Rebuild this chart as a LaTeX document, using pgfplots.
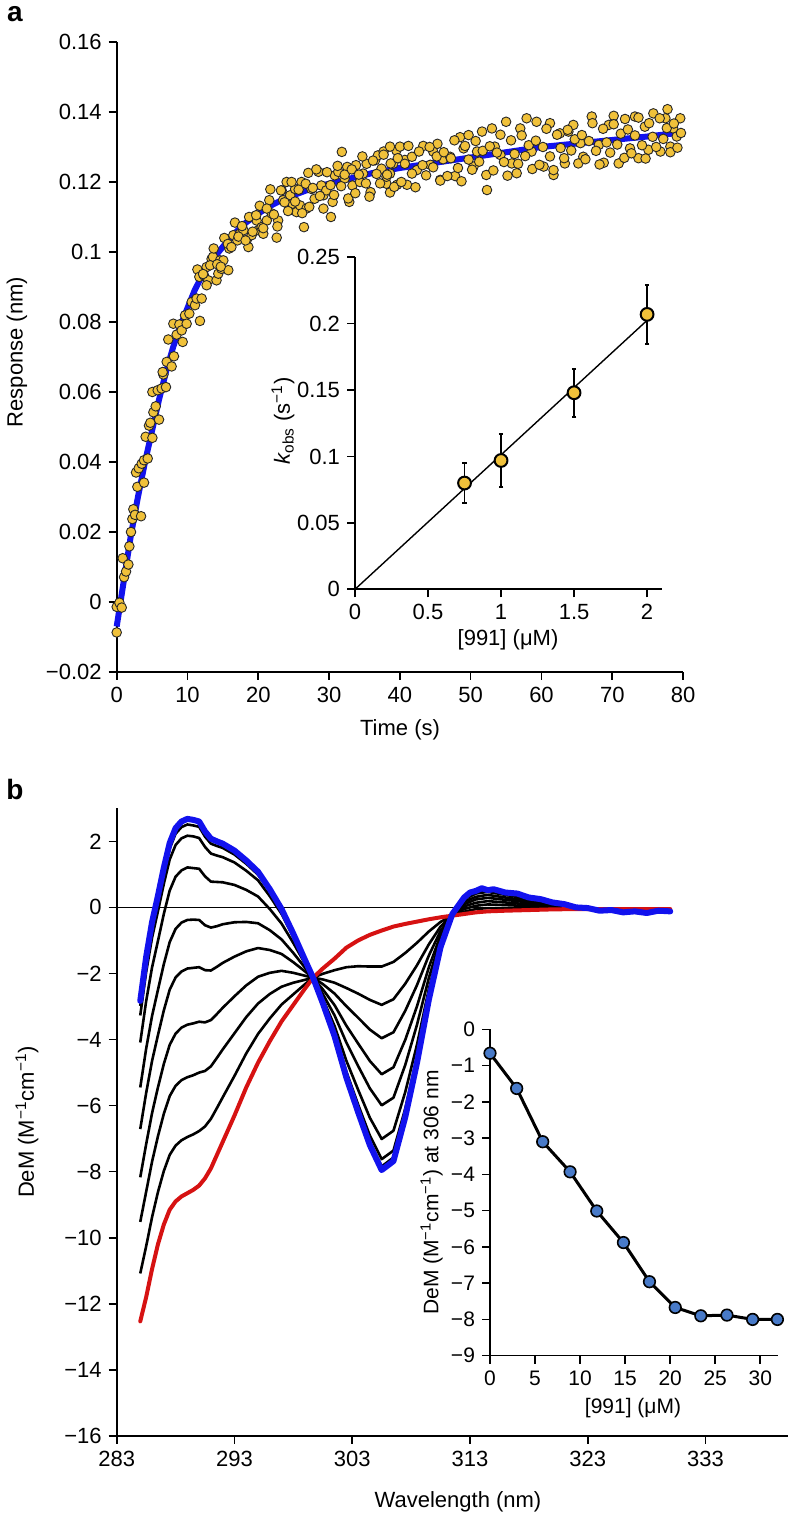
\documentclass[border=0pt]{standalone}
\usepackage{fontspec}
\setmainfont{Liberation Sans}
\usepackage{pgfplots}
\usepackage{pgfplotstable}
\pgfplotsset{compat=1.18}

\definecolor{dotyellow}{RGB}{240,193,58}
\definecolor{fitblue}{RGB}{18,18,238}
\definecolor{specred}{RGB}{214,18,18}
\definecolor{dotblue}{RGB}{72,122,200}

% CD titration spectra: wavelength, free (red), then 8 intermediate spectra
\pgfplotstableread{
x     r      k1     k2     k3     k4     k5     k6     k7     k8
285   -12.53 -11.08 -9.52  -8.17  -6.71  -5.45  -4.09  -3.27  -2.98
285.5 -11.80 -10.26 -8.61  -7.17  -5.62  -4.28  -2.84  -1.96  -1.65
286   -10.95 -9.38  -7.70  -6.23  -4.65  -3.29  -1.82  -0.92  -0.61
286.5 -10.20 -8.62  -6.93  -5.45  -3.87  -2.50  -1.02  -0.12  0.19
287   -9.60  -7.98  -6.25  -4.74  -3.12  -1.72  -0.20  0.71   1.04
287.5 -9.15  -7.49  -5.71  -4.16  -2.49  -1.05  0.51   1.45   1.78
288   -8.90  -7.21  -5.40  -3.82  -2.12  -0.65  0.93   1.89   2.23
288.5 -8.75  -7.05  -5.23  -3.64  -1.94  -0.46  1.12   2.09   2.43
289   -8.65  -6.95  -5.14  -3.55  -1.85  -0.38  1.21   2.17   2.51
289.5 -8.55  -6.87  -5.08  -3.51  -1.83  -0.37  1.19   2.15   2.48
290   -8.42  -6.77  -5.00  -3.46  -1.81  -0.38  1.17   2.10   2.44
290.5 -8.20  -6.63  -4.95  -3.48  -1.90  -0.54  0.94   1.83   2.14
291   -7.90  -6.40  -4.81  -3.41  -1.91  -0.61  0.78   1.63   1.93
291.5 -7.50  -6.08  -4.56  -3.23  -1.80  -0.57  0.77   1.57   1.86
292   -7.10  -5.75  -4.30  -3.04  -1.68  -0.51  0.76   1.52   1.80
293   -6.30  -5.10  -3.81  -2.69  -1.49  -0.45  0.68   1.36   1.60
294   -5.45  -4.42  -3.32  -2.36  -1.33  -0.44  0.53   1.11   1.32
295   -4.70  -3.83  -2.91  -2.10  -1.23  -0.48  0.33   0.82   0.99
296   -4.05  -3.36  -2.62  -1.98  -1.29  -0.69  -0.05  0.34   0.48
297   -3.45  -2.94  -2.40  -1.92  -1.41  -0.97  -0.49  -0.20  -0.10
298   -2.95  -2.63  -2.28  -1.98  -1.66  -1.38  -1.08  -0.90  -0.83
299   -2.45  -2.32  -2.19  -2.07  -1.94  -1.83  -1.71  -1.64  -1.61
299.7 -2.12  -2.12  -2.13  -2.13  -2.14  -2.14  -2.15  -2.15  -2.15
300.5 -1.85  -2.01  -2.18  -2.32  -2.48  -2.62  -2.76  -2.85  -2.88
301.5 -1.55  -1.90  -2.28  -2.61  -2.96  -3.27  -3.59  -3.79  -3.87
302.5 -1.22  -1.81  -2.44  -2.99  -3.58  -4.09  -4.64  -4.97  -5.09
303.5 -1.00  -1.78  -2.61  -3.34  -4.12  -4.80  -5.52  -5.97  -6.12
304.5 -0.83  -1.79  -2.80  -3.70  -4.65  -5.48  -6.37  -6.91  -7.10
305.5 -0.70  -1.79  -2.95  -3.96  -5.05  -5.99  -7.01  -7.62  -7.84
306.5 -0.58  -1.65  -2.78  -3.78  -4.84  -5.76  -6.76  -7.36  -7.57
307.5 -0.50  -1.38  -2.31  -3.13  -4.01  -4.77  -5.59  -6.09  -6.26
308.5 -0.43  -1.07  -1.75  -2.35  -2.99  -3.55  -4.15  -4.51  -4.64
309.5 -0.36  -0.73  -1.12  -1.46  -1.82  -2.14  -2.48  -2.69  -2.76
310.5 -0.30  -0.44  -0.58  -0.71  -0.84  -0.96  -1.08  -1.16  -1.19
311.5 -0.25  -0.24  -0.23  -0.23  -0.22  -0.21  -0.21  -0.20  -0.20
312.5 -0.20  -0.13  -0.05  0.03   0.10   0.17   0.24   0.28   0.29
313.5 -0.15  -0.05  0.05   0.14   0.24   0.32   0.42   0.47   0.49
314.5 -0.12  -0.02  0.09   0.19   0.29   0.38   0.47   0.53   0.55
316   -0.10  -0.02  0.07   0.15   0.23   0.30   0.38   0.43   0.44
318   -0.08  -0.02  0.04   0.09   0.15   0.20   0.25   0.28   0.29
320   -0.06  -0.03  0.01   0.03   0.07   0.09   0.12   0.14   0.14
322   -0.05  -0.04  -0.03  -0.03  -0.02  -0.01  -0.01  0.00   0.00
324   -0.05  -0.05  -0.06  -0.06  -0.07  -0.07  -0.08  -0.08  -0.08
326   -0.05  -0.07  -0.08  -0.10  -0.11  -0.12  -0.14  -0.15  -0.15
328   -0.05  -0.07  -0.09  -0.10  -0.12  -0.14  -0.15  -0.16  -0.17
330   -0.05  -0.06  -0.07  -0.08  -0.09  -0.10  -0.11  -0.12  -0.12
}\cdtable

\pgfplotsset{
  panel/.style={
    scale only axis, anchor=south west, clip=false,
    axis lines*=left,
    axis line style={line width=0.8pt},
    tick align=outside, major tick length=4pt,
    tick style={line width=0.8pt, black},
    ticklabel style={font=\fontsize{11}{13}\selectfont},
  },
}

\begin{document}
\begin{tikzpicture}
\useasboundingbox (0,0) rectangle (394pt,757pt);

% ---------------- panel a ----------------
\node[font=\fontsize{14}{16}\selectfont\bfseries] at (7.5pt,750pt) {a};

\begin{axis}[panel,
  at={(58.35pt,421pt)}, width=283.2pt, height=315pt,
  xmin=0, xmax=80, ymin=-0.02, ymax=0.16,
  xtick={0,10,20,30,40,50,60,70,80},
  xticklabels={0,10,20,30,40,50,60,70,80},
  ytick={-0.02,0,0.02,0.04,0.06,0.08,0.1,0.12,0.14,0.16},
  yticklabels={−0.02,0,0.02,0.04,0.06,0.08,0.1,0.12,0.14,0.16},
]
\addplot[fitblue, line width=3pt] coordinates {
(0,-0.007)(1,0.006)(2,0.019)(3,0.030)(4,0.040)(5,0.049)(6,0.058)(7,0.066)
(8,0.073)(9,0.079)(10,0.084)(11,0.089)(12,0.093)(14,0.099)(16,0.104)(18,0.108)
(20,0.111)(22,0.1135)(24,0.1155)(26,0.117)(28,0.1185)(30,0.1195)(33,0.121)
(36,0.1225)(40,0.124)(45,0.1255)(50,0.127)(55,0.1285)(60,0.130)(65,0.131)
(70,0.132)(75,0.133)(80,0.1342)};
\addplot[only marks, mark=*, mark size=2.4pt,
  mark options={fill=dotyellow, draw=black!85, line width=0.45pt}] coordinates {
(0,-0.0087)(0,-0.0014)(0.38,-0.0002)(0.71,-0.0016)(0.85,0.0125)(1.04,0.0071)
(1.32,0.0087)(1.65,0.0107)(1.79,0.0159)(2.02,0.020)(2.21,0.0237)(2.35,0.0265)
(2.59,0.0249)(2.92,0.0329)(2.73,0.037)(3.11,0.0382)(3.44,0.0245)(3.53,0.0395)
(3.86,0.0341)(3.86,0.0405)(4.09,0.0472)(4.38,0.041)(4.56,0.0504)(4.75,0.0512)
(5.04,0.0469)(5.18,0.0542)(5.51,0.0559)(5.98,0.0521)(5.04,0.060)(5.79,0.0605)
(6.35,0.061)(6.96,0.0614)(6.59,0.065)
(6.49,0.0657)(7.06,0.0686)(7.76,0.0673)(8.09,0.0702)(7.29,0.075)(8.0,0.0795)
(8.47,0.0764)(8.85,0.0793)(9.32,0.0743)(9.18,0.0776)(9.65,0.0819)(9.88,0.0795)
(10.26,0.0824)(10.59,0.0857)(11.06,0.0848)(11.76,0.0803)(11.29,0.0867)(12.0,0.0867)
(11.4,0.0950)(11.67,0.0929)(12.33,0.0933)(12.94,0.0919)(12.7,0.0957)(13.4,0.098)
(13.6,0.0986)(14.1,0.0919)(14.35,0.0938)(14.6,0.0976)(14.8,0.0952)(15.06,0.0976)
(15.76,0.0948)(15.9,0.101)(16.47,0.1048)(17.04,0.1033)(17.4,0.1052)(17.9,0.1062)
(18.35,0.1033)(18.6,0.1014)(19.06,0.1048)(19.3,0.11)(19.76,0.109)(20.0,0.1062)
(20.47,0.1071)(20.7,0.1052)(21.2,0.109)(21.55,0.1148)(21.9,0.111)(22.6,0.1041)
(22.8,0.109)(23.3,0.1176)(23.5,0.1148)(24.0,0.12)(24.5,0.1162)(24.85,0.1138)
(25.2,0.118)(25.4,0.1114)(25.9,0.1133)(26.1,0.12)(26.45,0.1071)(26.8,0.1124)
(27.06,0.1226)(27.5,0.118)(27.95,0.1152)(28.5,0.1229)(28.9,0.119)(29.2,0.1162)
(29.6,0.1176)(30.26,0.11)(30.5,0.1143)(30.8,0.1219)(31.3,0.1229)(31.8,0.1286)
(32.2,0.121)(32.56,0.1243)(32.85,0.1143)(33.3,0.119)(33.8,0.1248)(34.35,0.12)
(34.8,0.1224)(35.3,0.1252)(35.86,0.1171)(36.5,0.1262)(36.9,0.1276)(37.4,0.1238)
(38.1,0.1195)(38.6,0.1224)(39.06,0.1252)(39.5,0.129)
(37.7,0.1287)(38.6,0.1301)(38.1,0.1215)(38.6,0.117)(39.6,0.1192)(40.0,0.1301)
(40.7,0.1263)(41.0,0.1192)(41.7,0.1272)(42.4,0.1234)(43.3,0.1303)(44.3,0.1249)
(44.7,0.1287)(45.3,0.1309)(45.7,0.1206)(46.1,0.1265)(47.1,0.1272)(47.8,0.1217)
(48.5,0.1328)(49.0,0.1296)(49.7,0.1334)(50.4,0.1244)(50.9,0.1287)(51.6,0.1344)
(52.3,0.1177)(53.0,0.1353)(53.4,0.1301)(54.2,0.1277)(55.0,0.1372)(55.8,0.1253)
(56.5,0.1225)(57.0,0.1353)(57.9,0.1382)(58.6,0.1287)(59.3,0.1372)(60.3,0.1244)
(61.2,0.1368)(61.7,0.122)(62.6,0.1339)(63.3,0.1253)(63.8,0.1344)(64.5,0.1363)
(65.5,0.1311)(65.9,0.1272)(67.1,0.1387)(68.1,0.1306)(68.8,0.1255)(69.5,0.1363)
(70.2,0.1389)(70.9,0.1253)(71.8,0.138)(72.5,0.1296)(73.2,0.1387)(73.7,0.1268)
(74.6,0.1358)(75.1,0.1292)(75.8,0.1396)(76.8,0.1287)(77.5,0.1382)(77.8,0.1408)
(78.2,0.1301)(78.6,0.1353)(79.1,0.133)(79.6,0.1382)
(12.2,0.0937)(12.7,0.0905)(13.2,0.0962)(13.7,0.101)(14.2,0.0965)(14.7,0.0958)
(15.2,0.104)(15.7,0.1023)(16.2,0.1014)(16.7,0.1084)(17.2,0.1044)(17.7,0.1074)
(18.2,0.1033)(18.7,0.110)(19.2,0.1058)(19.7,0.1105)
(20.2,0.1132)(20.7,0.1068)(21.2,0.1124)(21.7,0.1179)(22.2,0.1107)(22.7,0.1073)
(23.2,0.1176)(23.7,0.1142)(24.2,0.1117)(24.7,0.120)(25.2,0.1144)(25.7,0.1178)
(26.2,0.1111)(26.7,0.1195)(27.2,0.1129)(27.7,0.1183)(28.2,0.1236)(28.7,0.116)
(29.2,0.1124)(29.7,0.1228)(30.2,0.1191)(30.7,0.1163)(31.2,0.1246)(31.7,0.1188)
(32.2,0.1221)(32.7,0.1153)(33.2,0.1236)(33.7,0.1168)(34.2,0.1221)(34.7,0.1273)
(35.2,0.1196)(35.7,0.1158)(36.2,0.1261)(36.7,0.1223)(37.2,0.1196)(37.7,0.1278)
(38.2,0.1221)(38.7,0.1253)(39.2,0.1186)(39.7,0.1268)(40.2,0.120)(40.7,0.1252)
(41.2,0.1303)(41.7,0.1224)(42.2,0.1185)(42.7,0.1287)(43.2,0.1248)(43.7,0.1219)
(44.2,0.130)(44.7,0.1242)(45.2,0.1273)(45.7,0.1204)(46.2,0.1285)(46.7,0.1217)
(47.2,0.1268)(47.7,0.1319)(48.2,0.124)(48.7,0.1202)(49.2,0.1303)(49.7,0.1264)
(50.2,0.1235)(50.7,0.1317)(51.2,0.1258)(51.7,0.1289)(52.2,0.122)(52.7,0.1302)
(53.2,0.1233)(53.7,0.1284)(54.2,0.1335)(54.7,0.1257)(55.2,0.1218)(55.7,0.1319)
(56.2,0.128)(56.7,0.1252)(57.2,0.1333)(57.7,0.1274)(58.2,0.1305)(58.7,0.1237)
(59.2,0.1318)(59.7,0.1249)(60.2,0.130)(60.7,0.1352)(61.2,0.1273)(61.7,0.1234)
(62.2,0.1335)(62.7,0.1297)(63.2,0.1268)(63.7,0.1349)(64.2,0.129)(64.7,0.1322)
(65.2,0.1253)(65.7,0.1334)(66.2,0.1265)(66.7,0.1317)(67.2,0.1368)(67.7,0.1289)
(68.2,0.125)(68.7,0.1352)(69.2,0.1313)(69.7,0.1284)(70.2,0.1365)(70.7,0.1307)
(71.2,0.1338)(71.7,0.1269)(72.2,0.135)(72.7,0.1282)(73.2,0.1333)(73.7,0.1384)
(74.2,0.1305)(74.7,0.1267)(75.2,0.1368)(75.7,0.1329)(76.2,0.130)(76.7,0.1382)
(77.2,0.1323)(77.7,0.1354)(78.2,0.1285)(78.7,0.1367)(79.2,0.1298)(79.7,0.134)
};
\end{axis}
\node[font=\fontsize{11}{13}\selectfont] at (200pt,392pt) {Time (s)};
\node[rotate=90, font=\fontsize{11}{13}\selectfont] at (8.5pt,581pt) {Response (nm)};

% inset a
\begin{axis}[panel,
  at={(177.5pt,462.35pt)}, width=153.35pt, height=166pt,
  xmin=0, xmax=2.1, ymin=0, ymax=0.25,
  xtick={0,0.5,1,1.5,2}, xticklabels={0,0.5,1,1.5,2},
  ytick={0,0.05,0.1,0.15,0.2,0.25}, yticklabels={0,0.05,0.1,0.15,0.2,0.25},
]
\addplot[black, line width=0.7pt] coordinates {(0,0)(2,0.2025)};
\addplot[only marks, mark=*, mark size=3.2pt,
  mark options={fill=dotyellow, draw=black, line width=1pt},
  error bars/.cd, y dir=both, y explicit,
  error bar style={line width=0.9pt, black},
  error mark options={line width=0.9pt, mark size=1.1pt, rotate=90}]
  coordinates {
  (0.75,0.080) +- (0,0.015)
  (1,0.097) +- (0,0.020)
  (1.5,0.148) +- (0,0.018)
  (2,0.207) +- (0,0.022)};
\end{axis}
\node[rotate=90, font=\fontsize{11}{13}\selectfont] at (141.5pt,546.5pt)
  {{\itshape k}\textsubscript{obs} (s\textsuperscript{−1})};
\node[font=\fontsize{11}{13}\selectfont] at (254pt,437pt) {[991] (μM)};

% ---------------- panel b ----------------
\node[font=\fontsize{14}{16}\selectfont\bfseries] at (7.5pt,362pt) {b};

\begin{axis}[panel,
  at={(58.35pt,39pt)}, width=335.65pt, height=313.85pt,
  xmin=283, xmax=340, ymin=-16, ymax=3,
  xtick={283,293,303,313,323,333},
  xticklabels={283,293,303,313,323,333},
  ytick={-16,-14,-12,-10,-8,-6,-4,-2,0,2},
  yticklabels={−16,−14,−12,−10,−8,−6,−4,−2,0,2},
]
\addplot[black, line width=0.6pt] coordinates {(283,0)(330,0)};
\addplot[black, line width=1.3pt, line join=round] table[x=x, y=k1] {\cdtable};
\addplot[black, line width=1.3pt, line join=round] table[x=x, y=k2] {\cdtable};
\addplot[black, line width=1.3pt, line join=round] table[x=x, y=k3] {\cdtable};
\addplot[black, line width=1.3pt, line join=round] table[x=x, y=k4] {\cdtable};
\addplot[black, line width=1.3pt, line join=round] table[x=x, y=k5] {\cdtable};
\addplot[black, line width=1.3pt, line join=round] table[x=x, y=k6] {\cdtable};
\addplot[black, line width=1.3pt, line join=round] table[x=x, y=k7] {\cdtable};
\addplot[black, line width=1.3pt, line join=round] table[x=x, y=k8] {\cdtable};
\addplot[specred, line width=2pt, line join=round, line cap=round] table[x=x, y=r] {\cdtable};
\addplot[fitblue, line width=3pt, line join=round, line cap=round] coordinates {
(285,-2.83)(285.5,-1.5)(286,-0.45)(286.5,0.35)(287,1.2)(287.5,1.95)(288,2.4)
(288.5,2.6)(289,2.68)(289.5,2.65)(290,2.6)(290.5,2.3)(291,2.08)(291.5,2.0)
(292,1.93)(293,1.72)(294,1.42)(295,1.08)(296,0.55)(297,-0.05)(298,-0.8)
(299,-1.6)(299.7,-2.15)(300.5,-2.9)(301.5,-3.9)(302.5,-5.15)(303.5,-6.2)
(304.5,-7.2)(305.5,-7.95)(306.5,-7.68)(307.5,-6.35)(308.5,-4.7)(309.5,-2.8)
(310.5,-1.2)(311.5,-0.2)(312.5,0.3)(313,0.45)(313.5,0.5)(314,0.58)(314.5,0.52)
(315,0.55)(316,0.45)(317,0.42)(318,0.3)(319,0.25)(320,0.15)(321,0.1)(322,0.0)
(323,-0.02)(324,-0.1)(325,-0.08)(326,-0.15)(327,-0.12)(328,-0.17)(329,-0.1)
(330,-0.12)};
\end{axis}
\node[font=\fontsize{11}{13}\selectfont] at (229pt,6pt) {Wavelength (nm)};
\node[rotate=90, font=\fontsize{11}{13}\selectfont] at (13.5pt,196pt)
  {DeM (M\textsuperscript{−1}cm\textsuperscript{−1})};

% inset b
\begin{axis}[panel,
  at={(245pt,79.15pt)}, width=144.15pt, height=163.2pt,
  xmin=0, xmax=32, ymin=-9, ymax=0,
  ticklabel style={font=\fontsize{10.5}{12}\selectfont},
  xtick={0,5,10,15,20,25,30}, xticklabels={0,5,10,15,20,25,30},
  ytick={-9,-8,-7,-6,-5,-4,-3,-2,-1,0},
  yticklabels={−9,−8,−7,−6,−5,−4,−3,−2,−1,0},
]
\addplot[black, line width=1.5pt, mark=*, mark size=2.9pt,
  mark options={fill=dotblue, draw=black, line width=0.8pt}] coordinates {
(0,-0.66)(2.96,-1.63)(5.85,-3.10)(8.89,-3.93)(11.85,-5.01)(14.81,-5.88)
(17.7,-6.96)(20.56,-7.67)(23.4,-7.90)(26.3,-7.88)(29.15,-8.0)(31.9,-8.0)};
\end{axis}
\node[rotate=90, font=\fontsize{10.5}{12}\selectfont] at (215.8pt,160.75pt)
  {DeM (M\textsuperscript{−1}cm\textsuperscript{−1}) at 306 nm};
\node[font=\fontsize{10.5}{12}\selectfont] at (316.5pt,53pt) {[991] (μM)};
\end{tikzpicture}
\end{document}
